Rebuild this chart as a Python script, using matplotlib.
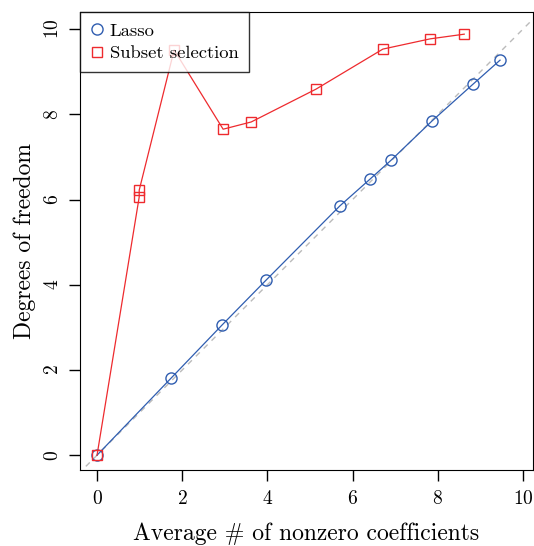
import numpy as np
import matplotlib.pyplot as plt

plt.rcParams['font.family'] = 'serif'
plt.rcParams['font.serif'] = ['cmr10', 'DejaVu Serif']
plt.rcParams['axes.formatter.use_mathtext'] = True

# Lasso: average nonzero coefficients vs degrees of freedom
lasso_x = [0.0, 1.74, 2.94, 3.97, 5.70, 6.41, 6.90, 7.86, 8.83, 9.46]
lasso_y = [0.0, 1.81, 3.06, 4.11, 5.85, 6.48, 6.92, 7.84, 8.71, 9.27]

# Best subset selection
subset_x = [0.0, 0.99, 0.99, 1.81, 2.96, 3.62, 5.14, 6.71, 7.82, 8.62]
subset_y = [0.0, 6.06, 6.22, 9.51, 7.65, 7.82, 8.59, 9.53, 9.77, 9.88]

xticks = [0, 2, 4, 6, 8, 10]
yticks = [0, 2, 4, 6, 8, 10]

blue = '#2f5db0'
red = '#ee2a2e'

fig = plt.figure(figsize=(5.34, 5.46), dpi=100)
ax = fig.add_axes([0.1498, 0.139, 0.848, 0.839])

ax.plot([-1, 11], [-1, 11], color='#bbbbbb', linestyle=(0, (4, 4)), linewidth=1, zorder=1)
ax.plot(lasso_x, lasso_y, color=blue, linewidth=0.9, marker='o', markersize=8,
        markerfacecolor='none', markeredgewidth=1, label='Lasso', zorder=3)
ax.plot(subset_x, subset_y, color=red, linewidth=0.9, marker='s', markersize=6.5,
        markerfacecolor='none', markeredgewidth=1, label='Subset selection', zorder=3)

ax.set_xlim(-0.4, 10.23)
ax.set_ylim(-0.35, 10.4)
ax.set_xticks(xticks)
ax.set_yticks(yticks)
ax.tick_params(length=8, width=1, labelsize=14, pad=6)
ax.tick_params(axis='y', pad=5)
for lab in ax.get_yticklabels():
    lab.set_rotation(90)
    lab.set_va('center')

ax.set_xlabel('Average # of nonzero coefficients', fontsize=17, labelpad=11)
ax.set_ylabel('Degrees of freedom', fontsize=17, labelpad=6)

leg = ax.legend(loc='upper left', bbox_to_anchor=(0, 1), fontsize=13.4, frameon=True,
                fancybox=False, edgecolor='black', borderaxespad=0,
                handlelength=0.66, handletextpad=0.36, borderpad=0.58, labelspacing=0.35)
leg.get_frame().set_linewidth(1)
for h in leg.legend_handles:
    h.set_linestyle('none')

fig.savefig('out.png', dpi=100)
